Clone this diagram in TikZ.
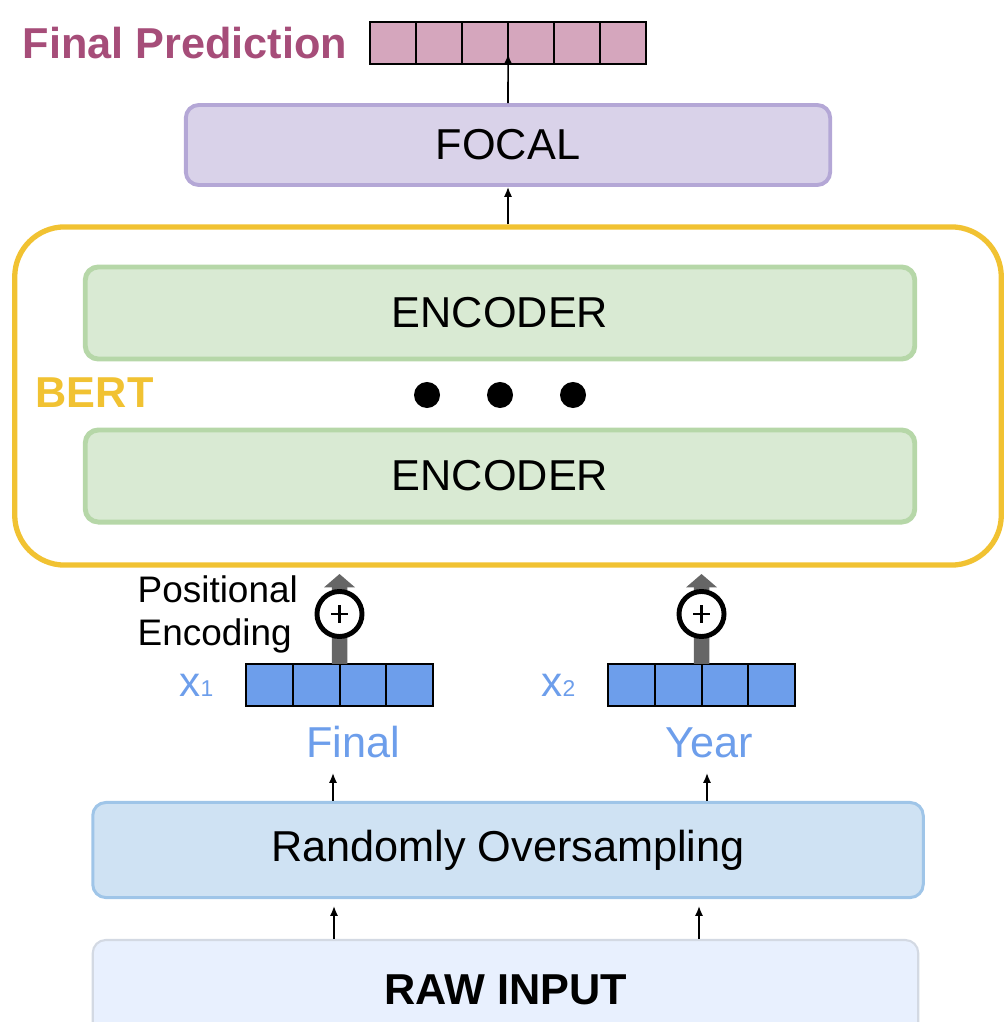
\documentclass[tikz,border=0pt]{standalone}
\usepackage{fontspec}
\setmainfont{Liberation Sans}
\usetikzlibrary{positioning,arrows.meta}

\definecolor{predpink}{HTML}{D5A6BD}
\definecolor{predtext}{HTML}{A64D79}
\definecolor{focalfill}{HTML}{D9D2E9}
\definecolor{focalline}{HTML}{B4A7D6}
\definecolor{bertline}{HTML}{F1C232}
\definecolor{encfill}{HTML}{D9EAD3}
\definecolor{encline}{HTML}{B6D7A8}
\definecolor{tokblue}{HTML}{6D9EEB}
\definecolor{rofill}{HTML}{CFE2F3}
\definecolor{roline}{HTML}{9FC5E8}
\definecolor{rawfill}{HTML}{E8F0FE}
\definecolor{rawline}{HTML}{D3D9E3}
\definecolor{pegray}{HTML}{666666}

\begin{document}
\begin{tikzpicture}[x=0.01cm, y=-0.01cm]
% STYLES
\tikzset{%
    block/.style={%
rectangle,
rounded corners=0.13cm,
line width=1.1pt,
inner sep=0pt,
font=\fontsize{12.3}{14}\selectfont,
text badly centered
                          },
    predcell/.style={%
rectangle, draw=black, fill=predpink, line width=0.6pt,
outer sep=0pt, minimum width=0.46cm, minimum height=0.42cm
                          },
    tokcell/.style={%
rectangle, draw=black, fill=tokblue, line width=0.6pt,
outer sep=0pt, minimum width=0.4675cm, minimum height=0.42cm
                          },
    headtext/.style={inner sep=0pt, text=predtext, font=\bfseries\fontsize{12.3}{14}\selectfont},
    berttext/.style={inner sep=0pt, text=bertline, font=\bfseries\fontsize{12.3}{14}\selectfont},
    notetext/.style={inner sep=0pt, align=left, font=\fontsize{10.5}{12.2}\selectfont},
    wordtext/.style={inner sep=0pt, text=tokblue, font=\fontsize{12.3}{14}\selectfont},
    arr/.style={-{Latex[length=2.8pt,width=2.3pt]}, line width=0.45pt},
    pearrow/.style={draw=pegray, line width=4.4pt, -{Triangle[length=3.8pt,width=8.6pt]}},
    adder/.style={circle, draw=black, fill=white, line width=1.4pt,
minimum size=0.45cm, inner sep=0pt,
path picture={\draw[line width=0.65pt]
([xshift=-0.085cm]path picture bounding box.center) -- ([xshift=0.085cm]path picture bounding box.center)
([yshift=-0.085cm]path picture bounding box.center) -- ([yshift=0.085cm]path picture bounding box.center);}},
    dot/.style={circle, fill=black, minimum size=0.26cm, inner sep=0pt}
             }

\useasboundingbox (0,0) rectangle (1004,1022);
\clip (0,0) rectangle (1004,1022);

% Draw prediction head
\node [predcell] (p1) at (393,43) {};
\foreach \i [count=\j from 2] in {1,...,5}
  \node [predcell, right=0pt of p\i] (p\j) {};
\node [headtext, left=0.22cm of p1] (predlabel) {Final Prediction};
\node [block, fill=focalfill, draw=focalline, minimum width=6.44cm, minimum height=0.8cm] (focal) at (508,145) {FOCAL};

% Draw BERT with its encoders
\node [draw=bertline, line width=1.5pt, rounded corners=0.5cm, minimum width=9.86cm, minimum height=3.38cm] (bert) at (508,396) {};
\node [block, fill=encfill, draw=encline, line width=1.4pt, minimum width=8.29cm, minimum height=0.92cm] (encA) at (500,313) {ENCODER};
\node [block, fill=encfill, draw=encline, line width=1.4pt, minimum width=8.29cm, minimum height=0.92cm, below=0.66cm of encA] (encB) {ENCODER};
\foreach \dx [count=\k] in {427,500,573}
  \node [dot] (dot\k) at (\dx,395) {};
\node [berttext, anchor=west] (bertlabel) at (35,393) {BERT};

% Draw token vectors
\node [tokcell] (a1) at (269.4,685) {};
\foreach \i [count=\j from 2] in {1,2,3}
  \node [tokcell, right=0pt of a\i] (a\j) {};
\node [tokcell] (b1) at (631.4,685) {};
\foreach \i [count=\j from 2] in {1,2,3}
  \node [tokcell, right=0pt of b\i] (b\j) {};
\node [wordtext, font=\fontsize{12}{14}\selectfont, left=0.32cm of a1] (xa) {x{\fontsize{6.5}{8}\selectfont 1}};
\node [wordtext, font=\fontsize{12}{14}\selectfont, left=0.32cm of b1] (xb) {x{\fontsize{6.5}{8}\selectfont 2}};

% Positional encoding
\coordinate (t1) at (339.5,574);
\coordinate (t2) at (701.5,574);
\draw [pearrow] (a2.north east) -- (t1);
\draw [pearrow] (b2.north east) -- (t2);
\node [adder] (pe1) at (339.5,614) {};
\node [adder] (pe2) at (701.5,614) {};
\node [notetext, left=0.16cm of pe1] (posenc) {Positional\\Encoding};

% Words and input
\node [wordtext, anchor=base] (w1) at (353,757) {Final};
\node [wordtext, anchor=base] (w2) at (709,757) {Year};
\node [block, fill=rofill, draw=roline, line width=0.85pt, minimum width=8.30cm, minimum height=0.95cm] (ro) at (508,850) {Randomly Oversampling};
\node [block, fill=rawfill, draw=rawline, line width=0.6pt, minimum width=8.25cm, minimum height=1.0cm, font=\bfseries\fontsize{12.3}{14}\selectfont] (raw) at (505.5,990) {RAW INPUT};

% Draw the links
\coordinate (u1) at (333,773);
\coordinate (u2) at (707,773);
\coordinate (d1) at (334,906);
\coordinate (d2) at (699,906);
\path[arr]
(raw.north -| d1) edge (d1)
(raw.north -| d2) edge (d2)
(ro.north -| u1) edge (u1)
(ro.north -| u2) edge (u2)
(bert.north) edge (focal.south)
(focal.north) edge ([yshift=0.1cm]p3.south east);
\end{tikzpicture}
\end{document}
